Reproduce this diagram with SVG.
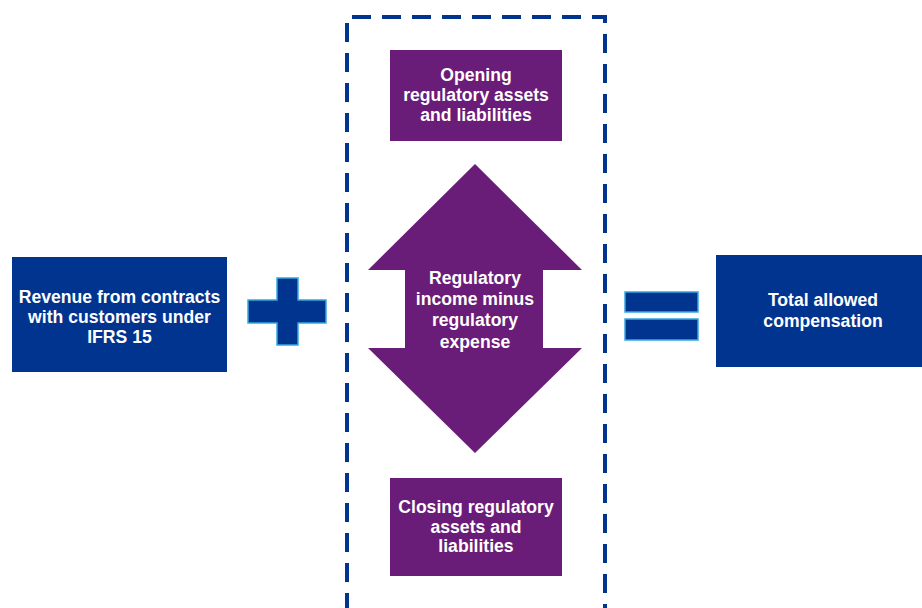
<svg xmlns="http://www.w3.org/2000/svg" width="922" height="608" viewBox="0 0 922 608">
  <style>
    .blue { fill: #00348f; }
    .purple { fill: #6a1d78; }
    .sym { fill: #00348f; stroke: #35a8e0; stroke-width: 1.5; }
    .label { font-family: "Liberation Sans", Arial, sans-serif; font-weight: bold; font-size: 17.6px; fill: #ffffff; text-anchor: middle; }
    .frame { fill: none; stroke: #00348f; stroke-width: 4; stroke-dasharray: 19 11; }
  </style>
  <rect width="922" height="608" fill="#ffffff"/>

  <!-- dashed frame around the regulatory movement -->
  <g id="frame">
    <path class="frame" d="M347 612 V17 H605 V612"/>
  </g>

  <g id="revenue">
    <rect class="blue" x="12" y="257" width="215" height="115"/>
    <text class="label" x="119.5" y="303">Revenue from contracts</text>
    <text class="label" x="119.5" y="323">with customers under</text>
    <text class="label" x="119.5" y="343">IFRS 15</text>
  </g>

  <g id="plus">
    <path class="sym" d="M277 278 H298 V300 H326 V323 H298 V345 H277 V323 H248 V300 H277 Z"/>
  </g>

  <g id="opening">
    <rect class="purple" x="390" y="50" width="172" height="91"/>
    <text class="label" x="476" y="81">Opening</text>
    <text class="label" x="476" y="101">regulatory assets</text>
    <text class="label" x="476" y="121">and liabilities</text>
  </g>

  <g id="movement">
    <path class="purple" d="M475 164 L582 270 H543 V348 H582 L475 453 L368 348 H405 V270 H368 Z"/>
    <text class="label" x="475" y="284">Regulatory</text>
    <text class="label" x="475" y="305">income minus</text>
    <text class="label" x="475" y="326">regulatory</text>
    <text class="label" x="475" y="348">expense</text>
  </g>

  <g id="closing">
    <rect class="purple" x="390" y="478" width="172" height="98"/>
    <text class="label" x="476" y="513">Closing regulatory</text>
    <text class="label" x="476" y="533">assets and</text>
    <text class="label" x="476" y="552">liabilities</text>
  </g>

  <g id="equals">
    <rect class="sym" x="625" y="292" width="73" height="20"/>
    <rect class="sym" x="625" y="319" width="73" height="21"/>
  </g>

  <g id="total">
    <rect class="blue" x="716" y="255" width="206" height="112"/>
    <text class="label" x="823" y="306">Total allowed</text>
    <text class="label" x="823" y="327">compensation</text>
  </g>

  <g id="connectors"></g>
</svg>
